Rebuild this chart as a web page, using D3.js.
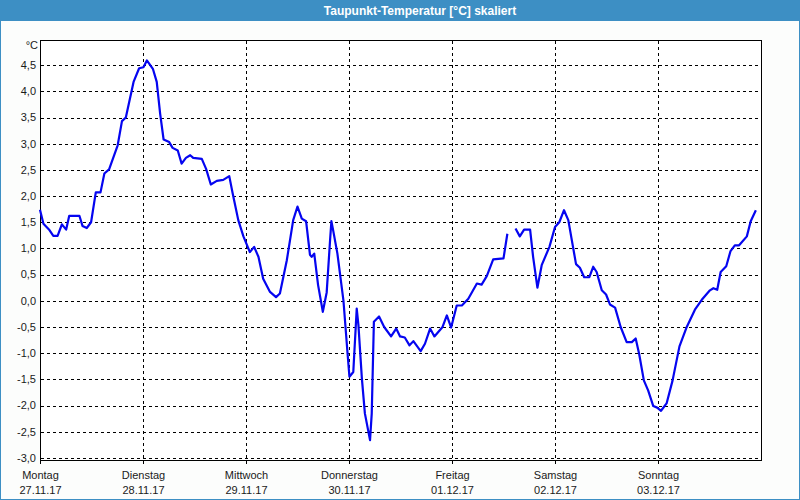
<!DOCTYPE html>
<html>
<head>
<meta charset="utf-8">
<script src="https://cdn.jsdelivr.net/npm/d3@7"></script>
<style>
  body { margin: 0; background: #fff; }
  svg { display: block; font-family: "Liberation Sans", Arial, sans-serif; }
</style>
</head>
<body>
<div id="chart"></div>
<script>
// hours since Monday 00:00 and dew point in °C (null = no data)
let hours = [0, 0.8, 2.2, 3.1, 4.1, 5.1, 6.1, 6.8, 9.2, 9.9, 10.9, 11.9, 13.0, 14.1, 15.0, 16.1, 18.1, 19.1, 20.0, 21.8,
    23.1, 24.1, 24.9, 26.3, 27.2, 28.0, 28.8, 30.1, 30.9, 32.1, 33.0, 34.0, 35.0, 35.7, 37.7, 38.7, 39.8, 41.2, 42.7, 44.1,
    44.9, 46.2, 47.4, 48.9, 49.9, 50.9, 52.0, 53.6, 55.0, 55.9, 57.5, 59.0, 60.0, 61.0, 62.0, 62.9, 63.3, 63.9, 64.8, 65.9,
    66.8, 67.6, 67.9, 68.3, 69.3, 70.7, 71.6, 72.1, 73.0, 73.8, 74.2, 75.0, 75.7, 76.9, 77.3, 77.8, 79.0, 80.2, 81.8, 83.0,
    83.9, 85.0, 86.1, 87.0, 88.7, 89.7, 90.9, 91.9, 93.8, 94.8, 95.8, 97.1, 98.3, 99.8, 101.8, 102.9, 104.1, 105.6, 108.0, 108.9,
    109.8, 110.8, 111.8, 112.8, 114.2, 114.9, 115.9, 116.9, 118.7, 120.0, 121.0, 122.1, 123.1, 124.9, 125.8, 126.8, 128.0, 128.9, 129.7, 130.9,
    131.9, 132.8, 134.0, 135.3, 136.7, 137.9, 138.8, 139.6, 140.7, 141.7, 142.9, 143.8, 144.7, 146.0, 147.4, 149.0, 150.7, 152.6, 154.2, 156.1,
    156.9, 157.8, 158.6, 159.9, 160.9, 161.9, 162.9, 164.7, 165.6, 166.8];
let dewPoint = [1.74, 1.47, 1.35, 1.24, 1.24, 1.46, 1.36, 1.62, 1.62, 1.43, 1.39, 1.50, 2.07, 2.07, 2.43, 2.51, 2.97, 3.43, 3.50, 4.18,
    4.44, 4.46, 4.59, 4.43, 4.18, 3.57, 3.08, 3.03, 2.92, 2.87, 2.62, 2.73, 2.78, 2.73, 2.71, 2.52, 2.22, 2.29, 2.31, 2.38,
    2.05, 1.54, 1.23, 0.93, 1.03, 0.84, 0.42, 0.17, 0.07, 0.14, 0.77, 1.54, 1.80, 1.57, 1.52, 0.88, 0.84, 0.90, 0.30, -0.21,
    0.16, 1.17, 1.52, 1.35, 0.90, 0.01, -0.94, -1.45, -1.36, -0.15, -0.47, -1.48, -2.15, -2.66, -2.15, -0.40, -0.30, -0.50, -0.68, -0.53,
    -0.68, -0.70, -0.85, -0.77, -0.96, -0.82, -0.53, -0.68, -0.50, -0.28, -0.51, -0.09, -0.09, 0.04, 0.33, 0.31, 0.47, 0.79, 0.81, 1.28,
    null, 1.38, 1.23, 1.36, 1.36, 0.84, 0.25, 0.68, 1.03, 1.41, 1.50, 1.73, 1.54, 0.70, 0.63, 0.45, 0.45, 0.65, 0.55, 0.20,
    0.12, -0.07, -0.13, -0.50, -0.79, -0.79, -0.72, -1.01, -1.52, -1.71, -2.01, -2.04, -2.10, -1.96, -1.52, -0.87, -0.50, -0.17, 0.02, 0.20,
    0.24, 0.21, 0.55, 0.66, 0.95, 1.06, 1.06, 1.23, 1.52, 1.73];

let dayNames = ["Montag", "Dienstag", "Mittwoch", "Donnerstag", "Freitag", "Samstag", "Sonntag"];
let dayDates = ["27.11.17", "28.11.17", "29.11.17", "30.11.17", "01.12.17", "02.12.17", "03.12.17"];
let yTicks = [-3, -2.5, -2, -1.5, -1, -0.5, 0, 0.5, 1, 1.5, 2, 2.5, 3, 3.5, 4, 4.5];

let W = 800, H = 500;
let plotLeft = 40, plotRight = 761, plotTop = 40, plotBottom = 460;

let svg = d3.select("#chart").append("svg")
    .attr("width", W)
    .attr("height", H);

// window frame + title bar
svg.append("rect")
    .attr("x", 0.5).attr("y", 0.5)
    .attr("width", W - 1).attr("height", H - 1)
    .attr("fill", "#fcfdfc")
    .attr("stroke", "#3d8fc4");
svg.append("rect")
    .attr("x", 0).attr("y", 0)
    .attr("width", W).attr("height", 21)
    .attr("fill", "#3d8fc4");
svg.append("text")
    .attr("x", 420).attr("y", 15)
    .attr("text-anchor", "middle")
    .attr("fill", "#fff")
    .style("font-weight", "bold")
    .style("font-size", "12px")
    .text("Taupunkt-Temperatur [°C] skaliert");

let x = d3.scaleLinear().domain([0, 168]).range([plotLeft, plotRight]);
let y = d3.scaleLinear().domain([-3.04, 4.98]).range([plotBottom, plotTop]);

let crisp = v => Math.round(v) + 0.5;

svg.append("rect")
    .attr("x", crisp(plotLeft)).attr("y", crisp(plotTop))
    .attr("width", plotRight - plotLeft)
    .attr("height", plotBottom - plotTop)
    .attr("fill", "#fff");

// horizontal grid
svg.append("g").selectAll("line")
    .data(yTicks)
    .enter().append("line")
    .attr("x1", plotLeft + 1).attr("x2", plotRight)
    .attr("y1", d => crisp(y(d))).attr("y2", d => crisp(y(d)))
    .attr("stroke", "#000")
    .attr("stroke-dasharray", "3,3")
    .attr("shape-rendering", "crispEdges");

// vertical grid at each midnight
let days = d3.range(7).map(d => d * 24);
svg.append("g").selectAll("line")
    .data(days.slice(1))
    .enter().append("line")
    .attr("x1", d => crisp(x(d))).attr("x2", d => crisp(x(d)))
    .attr("y1", plotTop + 1).attr("y2", plotBottom)
    .attr("stroke", "#000")
    .attr("stroke-dasharray", "3,3")
    .attr("shape-rendering", "crispEdges");

// plot frame
svg.append("rect")
    .attr("x", crisp(plotLeft)).attr("y", crisp(plotTop))
    .attr("width", plotRight - plotLeft)
    .attr("height", plotBottom - plotTop)
    .attr("fill", "none")
    .attr("stroke", "#000")
    .attr("shape-rendering", "crispEdges");

// y labels
let yLab = svg.append("g")
    .style("font-size", "11px")
    .attr("fill", "#1a1a1a")
    .attr("text-anchor", "end");
yLab.selectAll("text")
    .data(yTicks)
    .enter().append("text")
    .attr("x", 36)
    .attr("y", d => y(d))
    .attr("dy", "0.35em")
    .text(d => d3.format(".1f")(d).replace(".", ",").replace("−", "-"));
yLab.append("text")
    .attr("x", 38).attr("y", 49)
    .text("°C");

// x ticks and labels
let xAx = svg.append("g")
    .style("font-size", "11px")
    .attr("fill", "#1a1a1a")
    .attr("text-anchor", "middle");
let dayG = xAx.selectAll("g")
    .data(days)
    .enter().append("g")
    .attr("transform", d => "translate(" + crisp(x(d)) + ",0)");
dayG.append("line")
    .attr("y1", plotBottom).attr("y2", plotBottom + 4)
    .attr("stroke", "#000")
    .attr("shape-rendering", "crispEdges");
dayG.append("text")
    .attr("y", 479)
    .text((d, i) => dayNames[i]);
dayG.append("text")
    .attr("y", 494)
    .text((d, i) => dayDates[i]);

// dew point line
let points = hours.map((h, i) => [h, dewPoint[i]]);
let line = d3.line()
    .defined(d => d[1] !== null)
    .x(d => x(d[0]))
    .y(d => y(d[1]));

svg.append("path")
    .attr("d", line(points))
    .attr("fill", "none")
    .attr("stroke", "#0505f0")
    .attr("stroke-width", 2.2)
    .attr("stroke-linejoin", "round");
</script>
</body>
</html>
